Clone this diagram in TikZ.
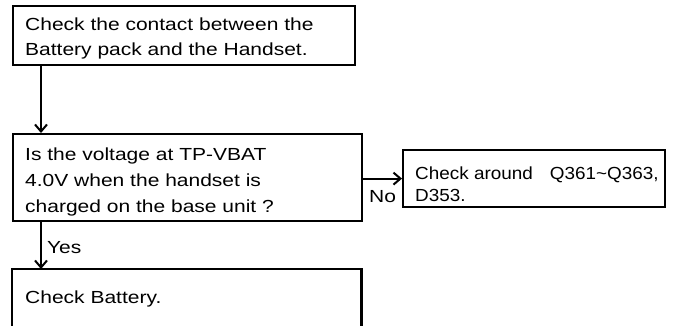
\documentclass[tikz,border=0pt]{standalone}
\usepackage{fontspec}
\setmainfont{Liberation Sans}[FakeStretch=1.2]
\newfontfamily\narrowsans{Liberation Sans}[FakeStretch=1.08]
\usetikzlibrary{arrows.meta}
\begin{document}
\begin{tikzpicture}[x=1pt,y=-1pt,
  box/.style={draw,line width=2.2pt,rectangle,inner sep=0pt,anchor=north west},
  hidden/.style={draw=none,rectangle,inner sep=0pt,anchor=north west},
  boxline/.style={line width=2.2pt},
  txt/.style={inner sep=0pt,anchor=base west,align=left},
  lbl/.style={inner sep=0pt,anchor=base west,font=\fontsize{17.5}{21}\selectfont},
  arr/.style={line width=2pt,-{Straight Barb[length=7pt,width=12pt,line width=2pt]}}]
\useasboundingbox (0,0) rectangle (674,325);
\node[box,minimum width=342pt,minimum height=59pt] (b1) at (12,5) {};
\node[box,minimum width=349pt,minimum height=87pt] (b2) at (12,133) {};
\node[box,minimum width=262pt,minimum height=57pt] (b3) at (402,149) {};
\node[hidden,minimum width=349pt,minimum height=57pt] (b4) at (12,269) {};
\draw[boxline] (b4.south west) -- (b4.north west) -- (b4.north east) -- (b4.south east);
\node[txt,font=\fontsize{17.5}{24.5}\selectfont] (t1) at ([shift={(13,50)}]b1.north west)
  {Check the contact between the\\Battery pack and the Handset.};
\node[txt,font=\fontsize{17.5}{26}\selectfont] (t2) at ([shift={(13,79.5)}]b2.north west)
  {Is the voltage at TP-VBAT\\4.0V when the handset is\\charged on the base unit ?};
\node[txt,font=\narrowsans\fontsize{17.5}{22}\selectfont] (t3) at ([shift={(13,52.7)}]b3.north west)
  {Check around\hspace{17pt}Q361\textasciitilde Q363,\\D353.};
\node[txt,font=\fontsize{17.5}{22}\selectfont] (t4) at ([shift={(13,34)}]b4.north west)
  {Check Battery.};
\draw[arr] ([xshift=29pt]b1.south west) -- ([xshift=29pt]b2.north west);
\draw[arr] ([xshift=29pt]b2.south west) -- node[lbl,pos=0.5,anchor=west,xshift=5pt,yshift=-2pt] (yes) {Yes} ([xshift=29pt]b4.north west);
\draw[arr] (b2.east |- b3.west) -- (b3.west);
\node[lbl] (no) at (369,202) {No};
\end{tikzpicture}
\end{document}
